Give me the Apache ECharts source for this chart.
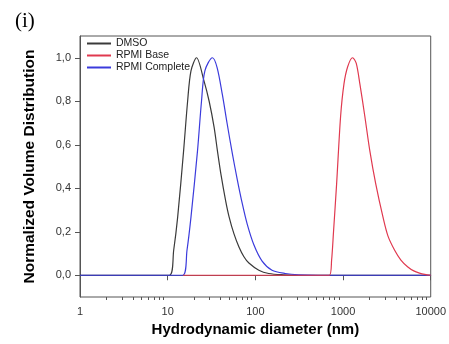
<!DOCTYPE html>
<html>
<head>
<meta charset="utf-8">
<script src="https://cdn.jsdelivr.net/npm/echarts@6/dist/echarts.min.js"></script>
<style>
  html, body { margin: 0; padding: 0; background: #fff; }
  #chart { width: 449px; height: 344px; }
</style>
</head>
<body>
<div id="chart"></div>
<script>
// Series: [diameter nm, normalized volume]
const dmsoPts = [
  [1, 0], [10.47, 0], [11.71, 0.115], [13.0, 0.267], [15.2, 0.573], [16.88, 0.8],
  [18.44, 0.94], [21.34, 1.0], [26.09, 0.89], [29.72, 0.8], [33.87, 0.68], [36.91, 0.573],
  [40.66, 0.46], [45.96, 0.34], [50.08, 0.27], [57.06, 0.19], [65.01, 0.13], [74.07, 0.085],
  [84.4, 0.056], [109.6, 0.023], [142.2, 0.008], [210.3, 0.002], [311.2, 0], [10000, 0]
];
const rpmiBasePts = [
  [15, 0], [698, 0], [741, 0.07], [779, 0.2], [845, 0.42], [938, 0.73], [1025, 0.88],
  [1132, 0.96], [1285, 1.0], [1413, 0.975], [1556, 0.88], [1774, 0.73], [2020, 0.573],
  [2361, 0.42], [2857, 0.267], [3258, 0.18], [3880, 0.115], [4571, 0.07], [5486, 0.038],
  [6412, 0.02], [7447, 0.01], [8551, 0.004], [10000, 0]
];
const rpmiCompletePts = [
  [1, 0], [14.81, 0], [16.61, 0.115], [18.44, 0.267], [21.9, 0.573], [24.31, 0.8],
  [26.57, 0.94], [32.39, 1.0], [36.63, 0.955], [42.06, 0.83], [47.54, 0.7], [54.6, 0.56],
  [62.2, 0.44], [70.87, 0.33], [80.74, 0.235], [96.16, 0.14], [119.4, 0.065], [155.0, 0.023],
  [219.9, 0.008], [311.2, 0.002], [524.2, 0], [10000, 0]
];
const yTicks = [0, 0.2, 0.4, 0.6, 0.8, 1.0];
const xMajor = [1, 10, 100, 1000, 10000];
const xMinor = [];
xMajor.slice(0, 4).forEach((d) => {
  for (let k = 2; k <= 9; k++) xMinor.push(d * k);
});

const chart = echarts.init(document.getElementById('chart'));
const axisColor = '#555';
const sans = 'Liberation Sans, Arial, sans-serif';
const labelFont = { color: '#333', fontSize: 11, fontFamily: sans };

chart.setOption({
  animation: false,
  title: {
    text: '(i)',
    left: 10,
    top: 6,
    textStyle: { fontFamily: 'Liberation Serif, Times New Roman, serif', fontSize: 21, fontWeight: 'normal', color: '#000' }
  },
  legend: {
    orient: 'vertical',
    left: 87,
    top: 38,
    padding: 0,
    itemWidth: 24,
    itemHeight: 2,
    itemGap: 1,
    icon: 'rect',
    textStyle: { color: '#222', fontSize: 10.5, fontFamily: sans },
    data: ['DMSO', 'RPMI Base', 'RPMI Complete']
  },
  grid: {
    left: 80, right: 16, top: 36, bottom: 47,
    show: true, borderColor: axisColor, borderWidth: 1
  },
  xAxis: [
    {
      type: 'log', logBase: 10, min: 1, max: 10000,
      name: 'Hydrodynamic diameter (nm)',
      nameLocation: 'middle', nameGap: 25,
      nameTextStyle: { color: '#000', fontSize: 15, fontWeight: 'bold', fontFamily: sans },
      axisLine: { lineStyle: { color: axisColor, width: 1 } },
      axisTick: { show: true, length: 5, lineStyle: { color: axisColor } },
      axisLabel: { ...labelFont, margin: 9, formatter: (v) => String(v) },
      splitLine: { show: false }
    },
    {
      type: 'log', logBase: 10, min: 1, max: 10000,
      position: 'bottom',
      axisLine: { show: false },
      axisTick: { show: true, length: 3, customValues: xMinor, lineStyle: { color: axisColor } },
      axisLabel: { show: false },
      splitLine: { show: false }
    }
  ],
  yAxis: {
    type: 'value', min: -0.1, max: 1.1,
    name: 'Normalized Volume Distribution',
    nameLocation: 'middle', nameGap: 42,
    nameTextStyle: { color: '#000', fontSize: 15.5, fontWeight: 'bold', fontFamily: sans },
    axisLine: { show: true, lineStyle: { color: axisColor, width: 1 } },
    axisTick: { show: true, length: 5, customValues: yTicks, lineStyle: { color: axisColor } },
    axisLabel: {
      ...labelFont, margin: 9, customValues: yTicks,
      formatter: (v) => v.toFixed(1).replace('.', ',')
    },
    splitLine: { show: false }
  },
  series: [
    {
      name: 'DMSO', type: 'line', data: dmsoPts, z: 2,
      showSymbol: false, smooth: 0.3,
      lineStyle: { color: '#3a3a3a', width: 1.2 }, itemStyle: { color: '#3a3a3a' }
    },
    {
      name: 'RPMI Base', type: 'line', data: rpmiBasePts, z: 4,
      showSymbol: false, smooth: 0.3,
      lineStyle: { color: '#e0394f', width: 1.2 }, itemStyle: { color: '#e0394f' }
    },
    {
      name: 'RPMI Complete', type: 'line', data: rpmiCompletePts, z: 3,
      showSymbol: false, smooth: 0.3,
      lineStyle: { color: '#3b3bdc', width: 1.2 }, itemStyle: { color: '#3b3bdc' }
    }
  ]
});
</script>
</body>
</html>
